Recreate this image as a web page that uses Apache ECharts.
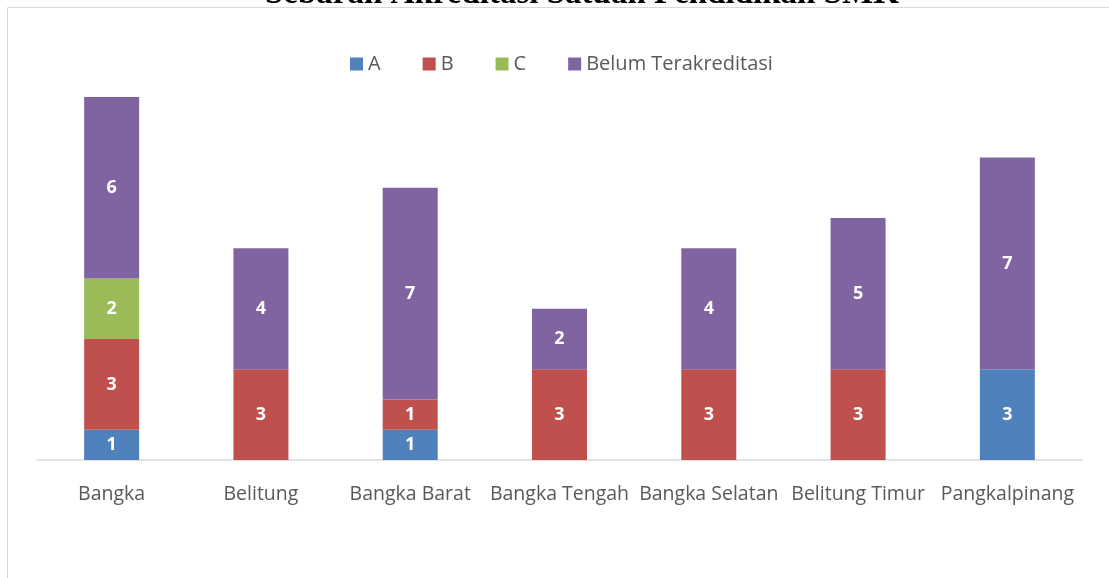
<!DOCTYPE html>
<html><head><meta charset="utf-8">
<script src="https://cdn.jsdelivr.net/npm/echarts@6/dist/echarts.min.js"></script>
<style>html,body{margin:0;padding:0;background:#fff}#c{width:1109px;height:578px}</style>
</head><body><div id="c"></div>
<script>
var categories = ['Bangka','Belitung','Bangka Barat','Bangka Tengah','Bangka Selatan','Belitung Timur','Pangkalpinang'];
var seriesNames = ['A','B','C','Belum Terakreditasi'];
var valuesA = [1,0,1,0,0,0,3];
var valuesB = [3,3,1,3,3,3,0];
var valuesC = [2,0,0,0,0,0,0];
var valuesBelum = [6,4,7,2,4,5,7];
var colors = ['#4F81BD','#C0504D','#9BBB59','#8064A2'];
var allValues = [valuesA, valuesB, valuesC, valuesBelum];

var chart = echarts.init(document.getElementById('c'));
chart.setOption({
  animation:false,
  title:{text:'Sebaran Akreditasi Satuan Pendidikan SMK',left:260,top:-27,
    textStyle:{fontFamily:'Liberation Serif',fontWeight:'bold',fontSize:33,color:'#000'}},
  graphic:[{type:'rect',shape:{x:7.5,y:7.5,width:1200,height:700},style:{fill:'none',stroke:'#D9D9D9',lineWidth:1},z:-1}],
  legend:{top:49,left:345,itemWidth:13,itemHeight:13,itemGap:42,icon:'rect',
    textStyle:{fontFamily:'Open Sans',fontSize:20,color:'#595959'},data:seriesNames},
  grid:{left:37,right:27,top:97,bottom:118},
  xAxis:{type:'category',data:categories,axisTick:{show:false},
    axisLine:{lineStyle:{color:'#D9D9D9',width:1.5}},
    axisLabel:{margin:24,fontFamily:'Open Sans',fontSize:19.5,color:'#595959',interval:0}},
  yAxis:{type:'value',min:0,max:12,show:false,splitLine:{show:false}},
  series: allValues.map(function(v,i){
    return {name:seriesNames[i],type:'bar',stack:'s',barWidth:55,
      itemStyle:{color:colors[i]},
      data:v.map(function(x){return x===0?null:x;}),
      label:{show:true,position:'inside',color:'#fff',fontWeight:'bold',fontFamily:'Open Sans',fontSize:18}};
  })
});
</script></body></html>
